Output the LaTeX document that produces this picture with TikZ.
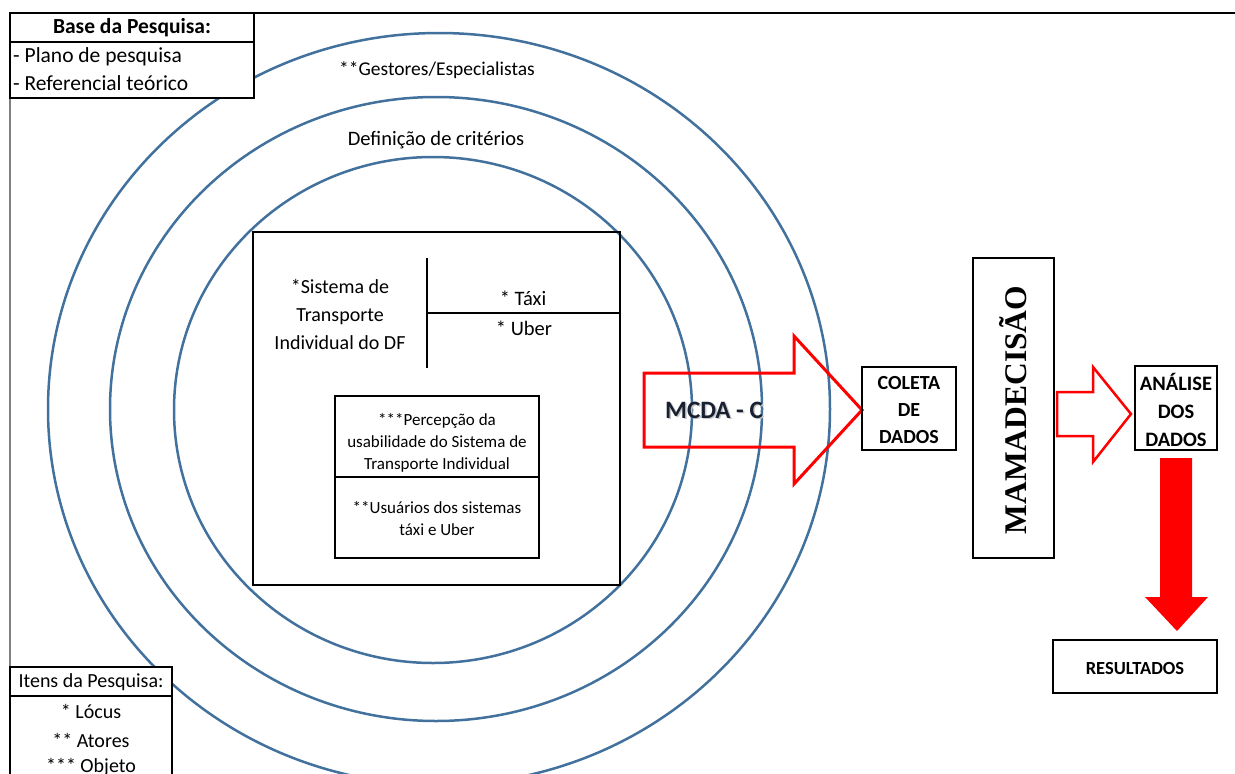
\documentclass[tikz,border=0pt]{standalone}
\usepackage{fontspec}
\setmainfont{Carlito}
\newfontfamily\serifbold{Liberation Serif}[BoldFont={Liberation Serif Bold}]
\definecolor{ringblue}{RGB}{65,113,156}
\definecolor{arrowred}{RGB}{255,0,0}
\definecolor{mcdatext}{RGB}{25,32,50}
\tikzset{
  ring/.style={draw=ringblue, line width=2.5pt},
  frame/.style={draw=black, line width=2pt},
  txt/.style={inner sep=0pt, align=center},
  blockarrow/.style={draw=arrowred, line width=3pt, line join=miter},
}
\newcommand{\fs}[2]{\fontsize{#1}{#2}\selectfont}
\begin{document}
\begin{tikzpicture}[x=1pt, y=-1pt]
\useasboundingbox (0,0) rectangle (1235,774);
\clip (0,0) rectangle (1235,774);

% page frame: black top rule, grey left rule
\draw[line width=2pt] (10,13) -- (1235,13);
\draw[draw=black!50, line width=2pt] (10,13) -- (10,774);

% concentric rings
\draw[ring] (439,409) ellipse [x radius=391, y radius=376];
\draw[ring] (436,409) ellipse [x radius=326, y radius=312];
\draw[ring] (433,410) ellipse [x radius=259, y radius=253];

\node[txt, font=\fs{19.5}{22}] (gestores) at (437,70) {**Gestores/Especialistas};
\node[txt, font=\fs{20.5}{22}] (criterios) at (436,140) {Definição de critérios};

% research base box
\draw[frame, fill=white] (10,13) rectangle (254,98);
\draw[frame] (10,42) -- (254,42);
\node[txt, font=\bfseries\fs{21.5}{24}] (basetitle) at (132,28) {Base da Pesquisa:};
\node[txt, anchor=west, font=\fs{21.5}{24}] (plano) at (13,57) {- Plano de pesquisa};
\node[txt, anchor=west, font=\fs{21.5}{24}] (referencial) at (13,83) {- Referencial teórico};

% research items box
\draw[frame, fill=white] (10,667) rectangle (172,790);
\draw[frame] (10,696) -- (172,696);
\node[txt, font=\fs{20}{22}] (itens) at (91,682) {Itens da Pesquisa:};
\node[txt, font=\fs{20}{22}] (locus) at (91,711) {* Lócus};
\node[txt, font=\fs{20}{22}] (atores) at (91,740) {** Atores};
\node[txt, font=\fs{20}{22}] (objeto) at (91,767) {*** Objeto};

% locus box
\draw[frame] (253,232) rectangle (620,585);
\draw[frame] (427,258) -- (427,368);
\draw[frame] (427,313) -- (620,313);
\node[txt, font=\fs{20}{28}] (sistema) at (340,314) {*Sistema de\\Transporte\\Individual do DF};
\node[txt, font=\fs{20.5}{22}] (taxi) at (523,298) {* Táxi};
\node[txt, font=\fs{20.5}{22}] (uber) at (524,328) {* Uber};

% object / actors box
\draw[frame] (335,396) rectangle (539,558);
\draw[frame] (335,477) -- (539,477);
\node[txt, font=\fs{17}{22}] (percepcao) at (437,443) {***Percepção da\\usabilidade do Sistema de\\Transporte Individual};
\node[txt, font=\fs{17}{22}] (usuarios) at (437,519) {**Usuários dos sistemas\\táxi e Uber};

% MCDA-C block arrow
\draw[blockarrow] (644,373) -- (794,373) -- (794,336) -- (862,410) -- (794,484) -- (794,447) -- (644,447) -- cycle;
\node[txt, font=\bfseries\fs{25}{28}, text=black!22] at (715.5,411.5) {MCDA - C};
\node[txt, font=\bfseries\fs{25}{28}, text=mcdatext] (mcda) at (714,410) {MCDA - C};

% data collection
\draw[frame] (862,367) rectangle (956,450);
\node[txt, font=\bfseries\fs{20}{27}] (coleta) at (909,410) {COLETA\\DE\\DADOS};

% software
\draw[frame] (973,258) rectangle (1054,558);
\node[txt, rotate=90, font=\serifbold\bfseries\fs{31.5}{34}] (mama) at (1013,410) {MAMADECISÃO};

% arrow to analysis
\draw[blockarrow, line width=2.5pt] (1057,392) -- (1093,392) -- (1093,367) -- (1131,414) -- (1093,462) -- (1093,436) -- (1057,436) -- cycle;

% data analysis
\draw[frame] (1135,366) rectangle (1217,450);
\node[txt, font=\bfseries\fs{20.5}{28}] (analise) at (1176,410) {ANÁLISE\\DOS\\DADOS};

% solid arrow down to results
\fill[arrowred] (1160,458) -- (1192,458) -- (1192,597) -- (1208,597) -- (1177,631) -- (1145,597) -- (1160,597) -- cycle;

% results
\draw[frame] (1053,640) rectangle (1217,693);
\node[txt, font=\bfseries\fs{18.5}{20}] (resultados) at (1135,668) {RESULTADOS};
\end{tikzpicture}
\end{document}
